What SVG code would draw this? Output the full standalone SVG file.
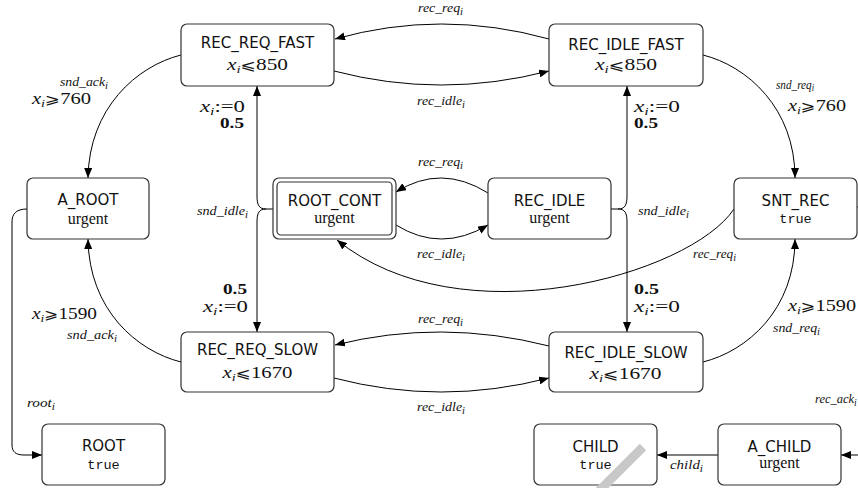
<svg xmlns="http://www.w3.org/2000/svg" width="858" height="488" viewBox="0 0 858 488">
<defs>
<marker id="ah" markerWidth="10" markerHeight="8" refX="10" refY="4" orient="auto" markerUnits="userSpaceOnUse">
<path d="M0,0 L10,4 L0,8 z" fill="#000"/>
</marker>
<style>
rect{fill:#fff;stroke:#333;stroke-width:1.2}
.e{fill:none;stroke:#000;stroke-width:1;marker-end:url(#ah)}
.n{fill:none;stroke:#000;stroke-width:1}
.nm{font-family:"DejaVu Sans",sans-serif;font-size:15px;text-anchor:middle;fill:#111}
.ur{font-family:"Liberation Serif",serif;font-size:16px;text-anchor:middle;fill:#111}
.tt{font-family:"Liberation Mono","DejaVu Sans Mono",monospace;font-size:13.5px;text-anchor:middle;fill:#111}
.mt{font-family:"Liberation Serif",serif;font-size:16px;fill:#111}
.rl{font-family:"DejaVu Serif","DejaVu Sans",serif;font-size:14px}
.lb{font-family:"Liberation Serif",serif;font-style:italic;font-size:12.5px;fill:#111}
.bd{font-family:"Liberation Serif",serif;font-weight:bold;font-size:14px;fill:#111}
.c{text-anchor:middle}
.it{font-style:italic}
</style>
</defs>

<g id="connectors">
<path class="e" d="M549,39 Q441,9 335,39"/>
<path class="e" d="M334,71 Q441,99 549,71"/>
<path class="e" d="M488,193 Q441,163.5 396,192"/>
<path class="e" d="M396,225 Q441,253 488,225"/>
<path class="e" d="M549,346 Q441,318.5 335,345"/>
<path class="e" d="M334,378 Q441,406 549,378"/>
<path class="e" d="M181,55 C137,66 89,108 88,178"/>
<path class="e" d="M703,55 C747,66 795,108 795,178"/>
<path class="e" d="M181,362 C137,351 89,310 88,239"/>
<path class="e" d="M703,362 C747,351 795,310 795,239"/>
<path class="e" d="M734,209 C690,275 460,340 337,240"/>
<path class="n" d="M273,209 L266,209"/>
<path class="e" d="M266,209 C259,209 257,205 257,196 L257,86"/>
<path class="e" d="M266,209 C259,209 257,213 257,222 L257,332"/>
<path class="n" d="M611,209 L618,209"/>
<path class="e" d="M618,209 C625,209 627,205 627,196 L627,86"/>
<path class="e" d="M618,209 C625,209 627,213 627,222 L627,332"/>
<path class="e" d="M27,209 C16,209 12,214 12,222 L12,445 C12,452 16,455 24,455 L42,455"/>
<path class="e" d="M718,455 L657,455"/>
<path class="e" d="M858,455 L841,455"/>
<path class="n" d="M857,207 L860,207"/>

<text class="lb" x="418" y="12" textLength="45" lengthAdjust="spacingAndGlyphs">rec_req<tspan font-size="9.5" dy="3">i</tspan></text>
<text class="lb" x="417" y="105" textLength="48" lengthAdjust="spacingAndGlyphs">rec_idle<tspan font-size="9.5" dy="3">i</tspan></text>
<text class="lb" x="418" y="166" textLength="45" lengthAdjust="spacingAndGlyphs">rec_req<tspan font-size="9.5" dy="3">i</tspan></text>
<text class="lb" x="417" y="258" textLength="48" lengthAdjust="spacingAndGlyphs">rec_idle<tspan font-size="9.5" dy="3">i</tspan></text>
<text class="lb" x="693" y="258" textLength="43" lengthAdjust="spacingAndGlyphs">rec_req<tspan font-size="9.5" dy="3">i</tspan></text>
<text class="lb" x="418" y="323" textLength="45" lengthAdjust="spacingAndGlyphs">rec_req<tspan font-size="9.5" dy="3">i</tspan></text>
<text class="lb" x="417" y="411" textLength="48" lengthAdjust="spacingAndGlyphs">rec_idle<tspan font-size="9.5" dy="3">i</tspan></text>
<text class="lb" x="60" y="86" textLength="48" lengthAdjust="spacingAndGlyphs">snd_ack<tspan font-size="9.5" dy="3">i</tspan></text>
<text class="lb" x="776" y="89" textLength="38" lengthAdjust="spacingAndGlyphs">snd_req<tspan font-size="9.5" dy="2">i</tspan></text>
<text class="lb" x="197" y="215" textLength="51" lengthAdjust="spacingAndGlyphs">snd_idle<tspan font-size="9.5" dy="3">i</tspan></text>
<text class="lb" x="638" y="215" textLength="51" lengthAdjust="spacingAndGlyphs">snd_idle<tspan font-size="9.5" dy="3">i</tspan></text>
<text class="lb" x="67" y="339" textLength="50" lengthAdjust="spacingAndGlyphs">snd_ack<tspan font-size="9.5" dy="3">i</tspan></text>
<text class="lb" x="773" y="332" textLength="47" lengthAdjust="spacingAndGlyphs">snd_req<tspan font-size="9.5" dy="3">i</tspan></text>
<text class="lb" x="27" y="407" textLength="28" lengthAdjust="spacingAndGlyphs">root<tspan font-size="9.5" dy="3">i</tspan></text>
<text class="lb" x="670" y="469" textLength="33" lengthAdjust="spacingAndGlyphs">child<tspan font-size="9.5" dy="3">i</tspan></text>
<text class="lb" x="815" y="403">rec_ack<tspan font-size="9.5" dy="3">i</tspan></text>

<text class="mt" x="32" y="104" textLength="59" lengthAdjust="spacingAndGlyphs"><tspan class="it">x</tspan><tspan class="it" font-size="11" dy="3">i</tspan><tspan class="rl" dy="-3">⩾</tspan><tspan>760</tspan></text>
<text class="mt" x="788" y="111" textLength="58" lengthAdjust="spacingAndGlyphs"><tspan class="it">x</tspan><tspan class="it" font-size="11" dy="3">i</tspan><tspan class="rl" dy="-3">⩾</tspan><tspan>760</tspan></text>
<text class="mt" x="32" y="319" textLength="65" lengthAdjust="spacingAndGlyphs"><tspan class="it">x</tspan><tspan class="it" font-size="11" dy="3">i</tspan><tspan class="rl" dy="-3">⩾</tspan><tspan>1590</tspan></text>
<text class="mt" x="788" y="311" textLength="68" lengthAdjust="spacingAndGlyphs"><tspan class="it">x</tspan><tspan class="it" font-size="11" dy="3">i</tspan><tspan class="rl" dy="-3">⩾</tspan><tspan>1590</tspan></text>

<text class="mt" x="200" y="112" textLength="45" lengthAdjust="spacingAndGlyphs"><tspan class="it">x</tspan><tspan class="it" font-size="11" dy="3">i</tspan><tspan dy="-3">:=0</tspan></text>
<text class="bd" x="220" y="128" textLength="24" lengthAdjust="spacingAndGlyphs">0.5</text>
<text class="bd" x="223" y="294" textLength="24" lengthAdjust="spacingAndGlyphs">0.5</text>
<text class="mt" x="203" y="312" textLength="45" lengthAdjust="spacingAndGlyphs"><tspan class="it">x</tspan><tspan class="it" font-size="11" dy="3">i</tspan><tspan dy="-3">:=0</tspan></text>
<text class="mt" x="634" y="112" textLength="46" lengthAdjust="spacingAndGlyphs"><tspan class="it">x</tspan><tspan class="it" font-size="11" dy="3">i</tspan><tspan dy="-3">:=0</tspan></text>
<text class="bd" x="634" y="128" textLength="24" lengthAdjust="spacingAndGlyphs">0.5</text>
<text class="bd" x="634" y="294" textLength="25" lengthAdjust="spacingAndGlyphs">0.5</text>
<text class="mt" x="634" y="312" textLength="46" lengthAdjust="spacingAndGlyphs"><tspan class="it">x</tspan><tspan class="it" font-size="11" dy="3">i</tspan><tspan dy="-3">:=0</tspan></text>
</g>

<g id="REC_REQ_FAST">
<rect x="181" y="24" width="153" height="62" rx="6"/>
<text class="nm" x="257.5" y="47.5">REC_REQ_FAST</text>
<text class="mt c" x="257.5" y="70" textLength="61" lengthAdjust="spacingAndGlyphs"><tspan class="it">x</tspan><tspan class="it" font-size="11" dy="3">i</tspan><tspan class="rl" dy="-3">⩽</tspan><tspan>850</tspan></text>
</g>
<g id="REC_IDLE_FAST">
<rect x="549" y="24" width="154" height="62" rx="6"/>
<text class="nm" x="626" y="50">REC_IDLE_FAST</text>
<text class="mt c" x="626" y="70" textLength="62" lengthAdjust="spacingAndGlyphs"><tspan class="it">x</tspan><tspan class="it" font-size="11" dy="3">i</tspan><tspan class="rl" dy="-3">⩽</tspan><tspan>850</tspan></text>
</g>
<g id="A_ROOT">
<rect x="27" y="178" width="122" height="61" rx="6"/>
<text class="nm" x="88" y="205">A_ROOT</text>
<text class="ur" x="88" y="224">urgent</text>
</g>
<g id="ROOT_CONT">
<rect x="273" y="178" width="123" height="61" rx="6"/>
<rect x="277" y="182" width="115" height="53" rx="4"/>
<text class="nm" x="334.5" y="205.5">ROOT_CONT</text>
<text class="ur" x="334.5" y="223">urgent</text>
</g>
<g id="REC_IDLE">
<rect x="488" y="178" width="123" height="61" rx="6"/>
<text class="nm" x="549.5" y="205.5">REC_IDLE</text>
<text class="ur" x="549.5" y="223">urgent</text>
</g>
<g id="SNT_REC">
<rect x="734" y="178" width="123" height="61" rx="6"/>
<text class="nm" x="795.5" y="205.5">SNT_REC</text>
<text class="tt" x="795.5" y="223">true</text>
</g>
<g id="REC_REQ_SLOW">
<rect x="181" y="332" width="153" height="60" rx="6"/>
<text class="nm" x="257.5" y="355">REC_REQ_SLOW</text>
<text class="mt c" x="257.5" y="378" textLength="70" lengthAdjust="spacingAndGlyphs"><tspan class="it">x</tspan><tspan class="it" font-size="11" dy="3">i</tspan><tspan class="rl" dy="-3">⩽</tspan><tspan>1670</tspan></text>
</g>
<g id="REC_IDLE_SLOW">
<rect x="549" y="332" width="154" height="60" rx="6"/>
<text class="nm" x="626" y="358">REC_IDLE_SLOW</text>
<text class="mt c" x="625.5" y="378.5" textLength="72" lengthAdjust="spacingAndGlyphs"><tspan class="it">x</tspan><tspan class="it" font-size="11" dy="3">i</tspan><tspan class="rl" dy="-3">⩽</tspan><tspan>1670</tspan></text>
</g>
<g id="ROOT">
<rect x="42" y="424" width="123" height="61" rx="6"/>
<text class="nm" x="103.5" y="451">ROOT</text>
<text class="tt" x="103.5" y="469">true</text>
</g>
<g id="CHILD">
<rect x="534" y="424" width="123" height="61" rx="6"/>
<text class="nm" x="595.5" y="451.5">CHILD</text>
<text class="tt" x="595.5" y="469">true</text>
</g>
<g id="A_CHILD">
<rect x="718" y="424" width="123" height="61" rx="6"/>
<text class="nm" x="779.5" y="451.5">A_CHILD</text>
<text class="ur" x="779.5" y="468">urgent</text>
</g>
<line x1="643" y1="447" x2="599" y2="491" stroke="#c8c8c8" stroke-width="9"/>
</svg>
